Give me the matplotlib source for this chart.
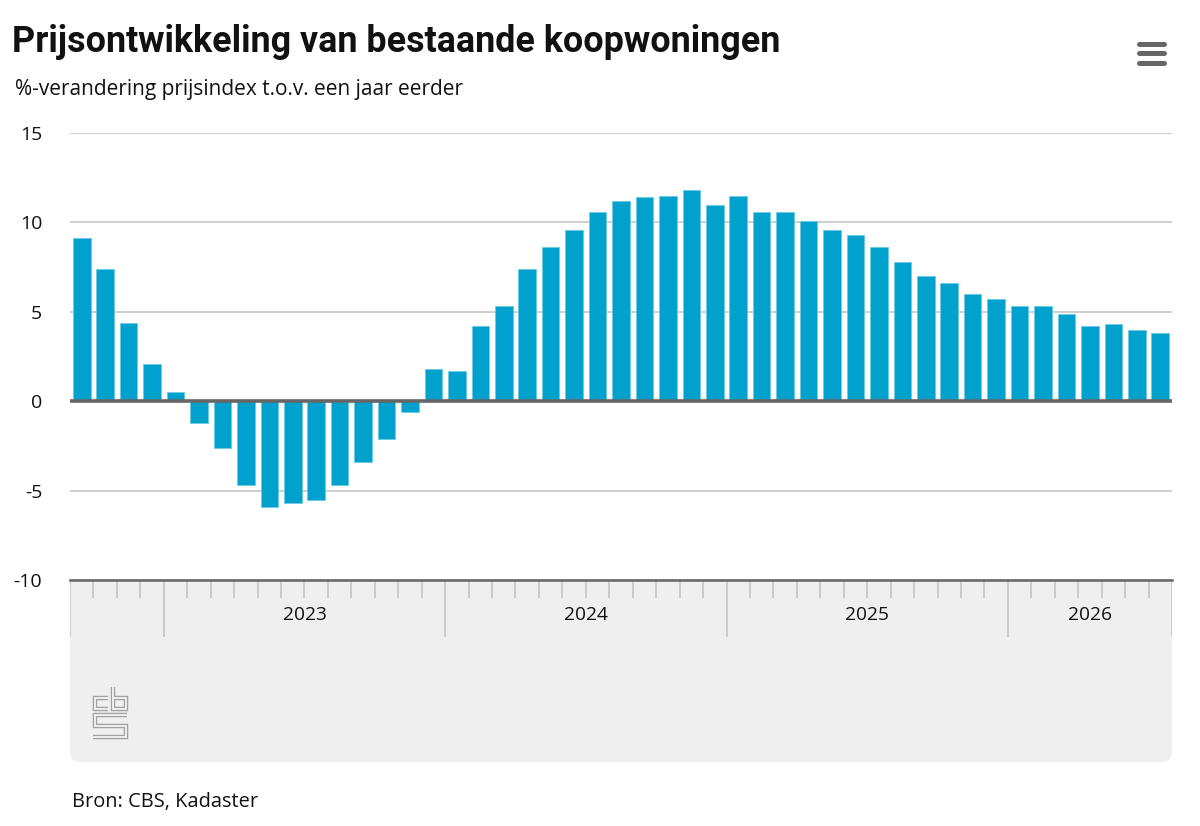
import matplotlib
matplotlib.use('Agg')
import matplotlib.pyplot as plt
from matplotlib.patches import Rectangle, FancyBboxPatch

# maandelijkse prijsontwikkeling, sep 2022 t/m jul 2026
months = ['2022-09', '2022-10', '2022-11', '2022-12',
          '2023-01', '2023-02', '2023-03', '2023-04', '2023-05', '2023-06',
          '2023-07', '2023-08', '2023-09', '2023-10', '2023-11', '2023-12',
          '2024-01', '2024-02', '2024-03', '2024-04', '2024-05', '2024-06',
          '2024-07', '2024-08', '2024-09', '2024-10', '2024-11', '2024-12',
          '2025-01', '2025-02', '2025-03', '2025-04', '2025-05', '2025-06',
          '2025-07', '2025-08', '2025-09', '2025-10', '2025-11', '2025-12',
          '2026-01', '2026-02', '2026-03', '2026-04', '2026-05', '2026-06',
          '2026-07']
values = [9.1, 7.4, 4.4, 2.1,
          0.5, -1.2, -2.6, -4.7, -5.9, -5.7, -5.5, -4.7, -3.4, -2.1, -0.6, 1.8,
          1.7, 4.2, 5.3, 7.4, 8.6, 9.6, 10.6, 11.2, 11.4, 11.5, 11.8, 11.0,
          11.5, 10.6, 10.6, 10.1, 9.6, 9.3, 8.6, 7.8, 7.0, 6.6, 6.0, 5.7,
          5.3, 5.3, 4.9, 4.2, 4.3, 4.0, 3.8]
years = ['2023', '2024', '2025', '2026']
yticks = [-10, -5, 0, 5, 10, 15]

title = 'Prijsontwikkeling van bestaande koopwoningen'
subtitle = '%-verandering prijsindex t.o.v. een jaar eerder'
source = 'Bron: CBS, Kadaster'

BLUE = '#00a1cd'
PANEL = '#efefef'
DARK = '#666666'
W, H = 1200, 826

plt.rcParams['font.family'] = ['Open Sans', 'DejaVu Sans']

fig = plt.figure(figsize=(W / 100, H / 100), dpi=100)
fig.patch.set_facecolor('white')

# achtergrond in pixels (paneel, logo, menu-icoon, teksten)
bg = fig.add_axes([0, 0, 1, 1], zorder=0)
bg.set_xlim(0, W)
bg.set_ylim(H, 0)
bg.axis('off')

bg.add_patch(Rectangle((70, 580), 1102, 160, facecolor=PANEL, lw=0))
bg.add_patch(FancyBboxPatch((70, 600), 1102, 162,
                            boxstyle='round,pad=0,rounding_size=10',
                            facecolor=PANEL, lw=0))

# cbs-logo: dubbele lijn
logo = [
    [(108, 698), (94.5, 698), (94.5, 709), (108, 709)],
    [(113, 687), (113, 709), (126, 709), (126, 698), (113, 698)],
    [(127, 714.5), (94.5, 714.5), (94.5, 725.5), (126, 725.5),
     (126, 736.5), (93, 736.5)],
]
for pts in logo:
    xs, ys = zip(*pts)
    bg.plot(xs, ys, color='#a2a2a2', lw=3.2, solid_joinstyle='miter',
            solid_capstyle='butt')
    bg.plot(xs, ys, color=PANEL, lw=1.4, solid_joinstyle='miter',
            solid_capstyle='butt')

# menu-icoon
for yy in (43.5, 53, 62.5):
    bg.plot([1139, 1164], [yy, yy], color=DARK, lw=3.6,
            solid_capstyle='round')

bg.text(12, 52, title, fontsize=25.8, fontweight='bold', color='#111111',
        family=['Roboto', 'DejaVu Sans'], va='baseline', ha='left')
bg.text(15, 95, subtitle, fontsize=15, color='#111111', va='baseline',
        ha='left')
bg.text(72, 807, source, fontsize=14.4, color='#111111', va='baseline',
        ha='left')

# staafdiagram
ax = fig.add_axes([70 / W, 1 - 580 / H, 1102 / W, 447 / H], zorder=2)
ax.set_facecolor('none')
x = list(range(len(months)))
ax.bar(x, values, width=0.75, color=BLUE, edgecolor='#6ccbe6', lw=0.6,
       zorder=2)
ax.axhline(0, color=DARK, lw=2.6, zorder=3)
ax.set_xlim(-0.5, len(months) - 0.5)
ax.set_ylim(-10, 15)
ax.set_yticks(yticks)
ax.set_yticklabels([str(t) for t in yticks])
ax.yaxis.grid(True, color='#cccccc', lw=1.3)
ax.set_axisbelow(True)
ax.tick_params(axis='y', length=0, pad=20, labelsize=14, labelcolor='#111111')
ax.set_xticks([])
for s in ('top', 'right', 'left'):
    ax.spines[s].set_visible(False)
ax.spines['bottom'].set_color(DARK)
ax.spines['bottom'].set_linewidth(1.8)
ax.spines['bottom'].set_zorder(4)

# x-as paneel: maandstreepjes en jaartallen
ax2 = fig.add_axes([70 / W, 1 - 762 / H, 1102 / W, 182 / H], sharex=ax,
                   zorder=1)
ax2.set_facecolor('none')
ax2.set_ylim(182, 0)
ax2.axis('off')

year_of = [m[:4] for m in months]
minor, major = [], [-0.5, len(months) - 0.5]
for i in range(1, len(months)):
    if year_of[i] != year_of[i - 1]:
        major.append(i - 0.5)
    else:
        minor.append(i - 0.5)
ax2.vlines(minor, 0, 18, color='#c4c4c4', lw=1.2)
ax2.vlines(major, 0, 57, color='#c4c4c4', lw=1.2)
for yr in years:
    idx = [i for i, y in enumerate(year_of) if y == yr]
    ax2.text(sum(idx) / len(idx), 35, yr, ha='center', va='center',
             fontsize=13.8, color='#111111')

fig.savefig('out.png', dpi=100, facecolor='white')
